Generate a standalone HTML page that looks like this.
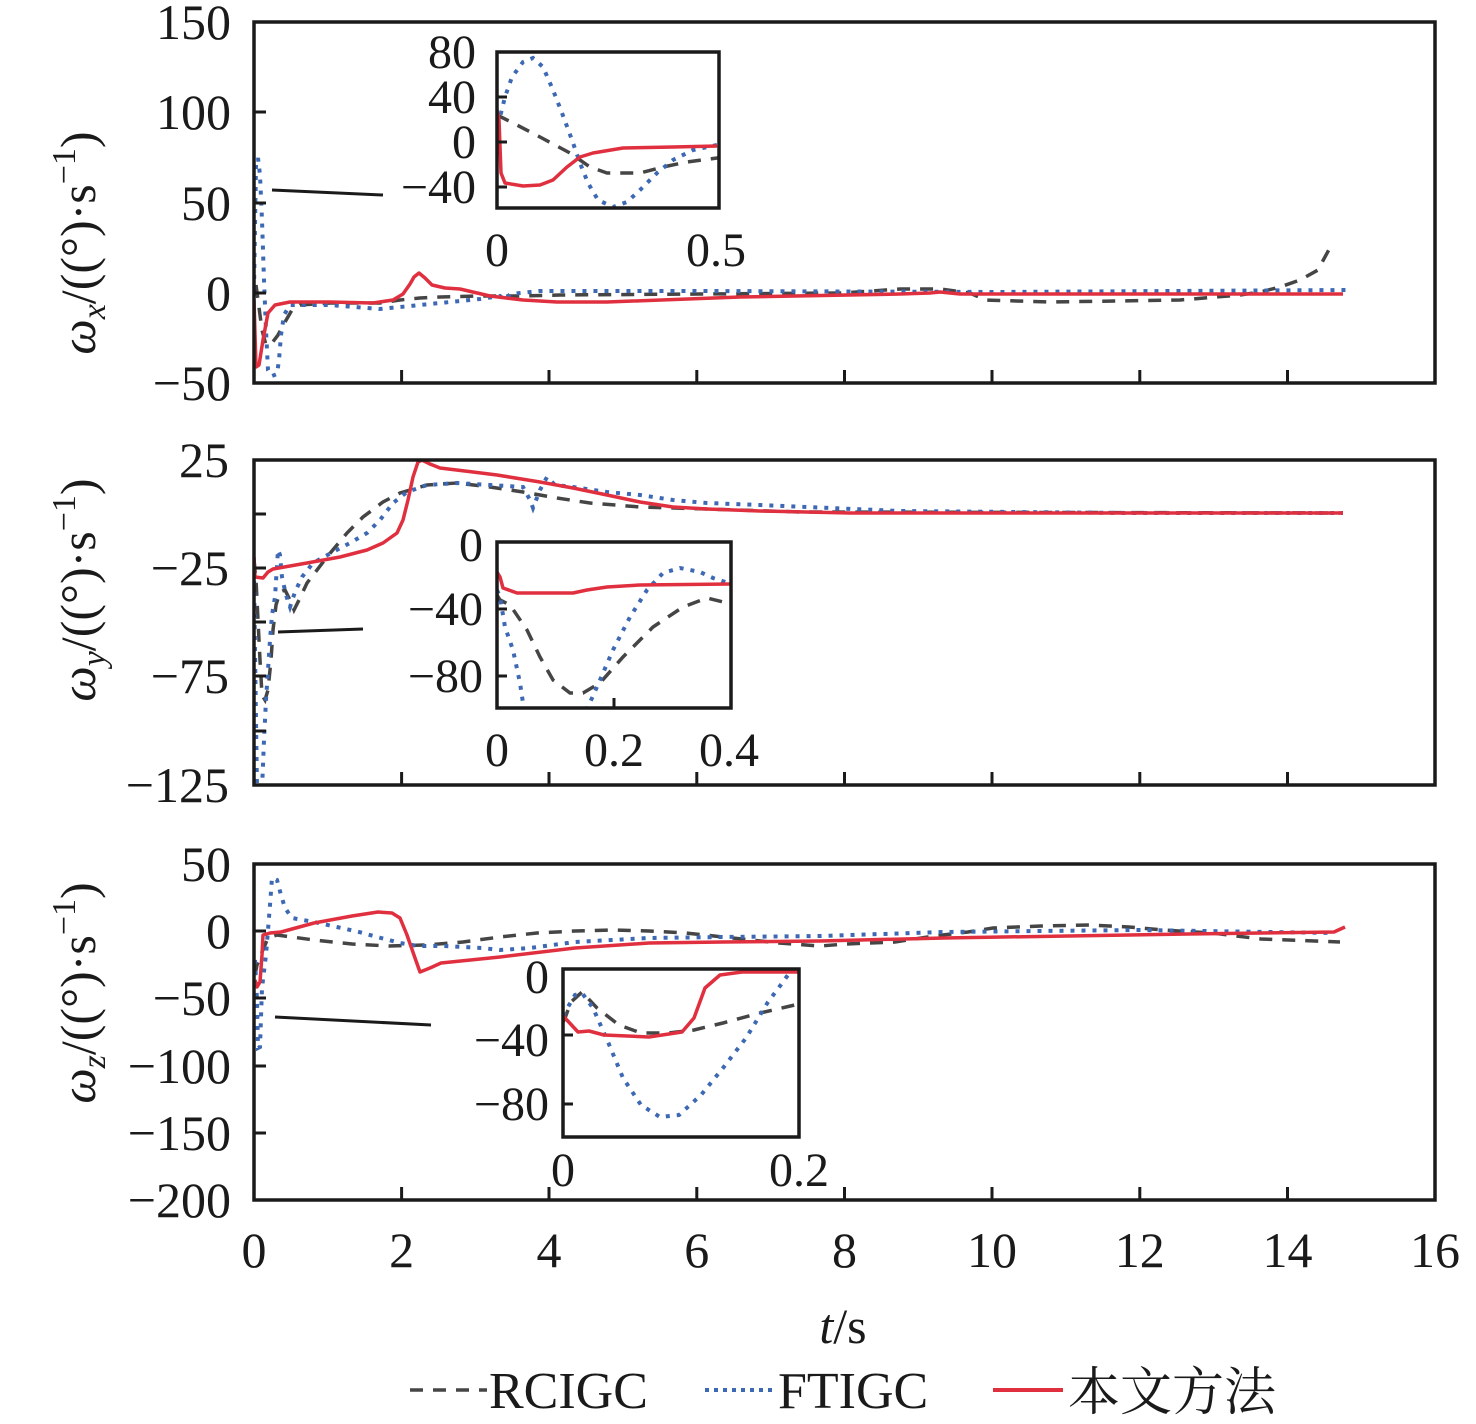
<!DOCTYPE html>
<html><head><meta charset="utf-8"><style>
html,body{margin:0;padding:0;background:#fff;}
svg{display:block;}
text{font-family:"Liberation Serif","Noto Serif CJK SC",serif;fill:#1a1a1a;}
</style></head><body>
<svg width="1476" height="1424" viewBox="0 0 1476 1424" xmlns="http://www.w3.org/2000/svg">
<defs>
<clipPath id="c1"><rect x="254" y="22" width="1181" height="361"/></clipPath>
<clipPath id="c2"><rect x="254" y="460" width="1181" height="325"/></clipPath>
<clipPath id="c3"><rect x="254" y="864" width="1181" height="336"/></clipPath>
<clipPath id="i1"><rect x="497" y="52" width="222" height="156"/></clipPath>
<clipPath id="i2"><rect x="497" y="542" width="234" height="166"/></clipPath>
<clipPath id="i3"><rect x="563" y="969" width="236" height="168"/></clipPath>
</defs>
<style>
.r{fill:none;stroke:#e0303f;stroke-width:3.5;stroke-linejoin:round;}
.b{fill:none;stroke:#3d68b3;stroke-width:4;stroke-dasharray:4 7;}
.g{fill:none;stroke:#454545;stroke-width:3.5;stroke-dasharray:13 10;}
.fr{fill:none;stroke:#1a1a1a;stroke-width:3.5;}
.tk{stroke:#1a1a1a;stroke-width:3;}
.t{font-size:50px;}
.ti{font-size:48px;}
</style>

<!-- ===== Panel 1 ===== -->
<g clip-path="url(#c1)">
<polyline class="g" points="256,285 258,300 262,330 266,345 272,343 278,335 285,322 292,310 300,305 330,303 380,303 400,300 420,298 440,297 480,296 520,296 560,295 700,294 843,293 900,289 940,289 970,293 985,300 1050,302 1180,300 1240,295 1260,292 1280,287 1300,280 1318,270 1333,242"/>
<polyline class="b" points="254,290 256,165 258,158 260,175 262,220 264,280 266,330 268,370 272,376 277,374 279,360 281,335 284,315 290,305 330,305 380,309 400,307 440,303 480,299 500,296 505,300 510,294 540,291 700,291 1000,292 1350,290"/>
<polyline class="r" points="254,300 256,367 259,365 263,340 268,313 275,305 290,302 330,302 373,303 393,300 403,294 410,284 414,277 419,273 425,278 432,285 445,288 460,289 490,296 523,300 557,302 607,302 740,297 900,294 930,293 940,292 960,294 1000,294 1343,294"/>
</g>
<rect class="fr" x="254" y="22" width="1181" height="361"/>
<g class="tk">
<line x1="254" y1="112" x2="266" y2="112"/><line x1="254" y1="203" x2="266" y2="203"/><line x1="254" y1="293" x2="266" y2="293"/>
<line x1="401.6" y1="383" x2="401.6" y2="370"/><line x1="549" y1="383" x2="549" y2="370"/><line x1="696.8" y1="383" x2="696.8" y2="370"/><line x1="844.5" y1="383" x2="844.5" y2="370"/><line x1="992" y1="383" x2="992" y2="370"/><line x1="1139.8" y1="383" x2="1139.8" y2="370"/><line x1="1287.5" y1="383" x2="1287.5" y2="370"/>
</g>
<g class="t" text-anchor="end">
<text x="231" y="39">150</text><text x="231" y="129">100</text><text x="231" y="220">50</text><text x="231" y="310">0</text><text x="231" y="400">−50</text>
</g>
<line x1="272" y1="190" x2="383" y2="195" stroke="#1a1a1a" stroke-width="3"/>
<!-- inset 1 -->
<rect x="497" y="52" width="222" height="156" fill="#fff"/>
<g clip-path="url(#i1)">
<polyline class="g" points="497,115 513,123 540,137 570,153 590,167 607,173 640,173 663,167 687,162 717,158 722,157"/>
<polyline class="b" points="497,125 500,117 505,97 512,77 523,62 533,58 543,67 553,90 562,113 572,140 580,163 588,183 598,200 613,207 627,202 640,190 657,173 673,160 693,150 717,145"/>
<polyline class="r" points="497,110 499,120 501,173 505,183 523,186 540,185 553,180 567,167 580,157 593,153 623,148 673,147 717,146"/>
</g>
<rect class="fr" x="497" y="52" width="222" height="156" stroke-width="3"/>
<g class="tk"><line x1="497" y1="97" x2="507" y2="97"/><line x1="497" y1="142" x2="507" y2="142"/><line x1="497" y1="187" x2="507" y2="187"/></g>
<g class="ti" text-anchor="end">
<text x="476" y="68">80</text><text x="476" y="113">40</text><text x="476" y="158">0</text><text x="476" y="203">−40</text>
</g>
<g class="ti" text-anchor="middle"><text x="497" y="266">0</text><text x="716" y="266">0.5</text></g>

<!-- ===== Panel 2 ===== -->
<g clip-path="url(#c2)">
<polyline class="g" points="254,560 256,580 258,620 260,660 262,695 265,700 268,690 271,660 273,630 276,605 280,592 285,590 290,600 294,610 300,598 307,583 327,557 347,533 363,517 383,502 400,493 427,485 457,483 490,487 523,492 557,498 590,503 640,507 707,509 800,512 1343,513"/>
<polyline class="b" points="254,570 255,650 256,720 257,790 260,800 262,790 264,740 266,700 268,670 270,640 272,615 275,597 278,550 280,555 282,577 286,595 290,607 295,592 302,577 313,563 333,552 350,543 367,533 380,520 393,503 407,492 427,485 457,483 490,485 523,487 530,500 533,508 540,490 547,477 555,485 573,487 607,492 640,495 673,500 707,503 760,505 900,511 1130,513 1343,513"/>
<polyline class="r" points="254,557 255,577 263,578 268,572 273,569 307,563 340,557 367,550 383,543 397,533 403,520 408,500 413,477 418,462 422,460 430,464 440,468 473,472 497,475 540,482 573,488 607,495 640,502 673,507 707,509 760,511 850,513 1343,513"/>
</g>
<rect class="fr" x="254" y="460" width="1181" height="325"/>
<g class="tk">
<line x1="254" y1="514" x2="266" y2="514"/><line x1="254" y1="568" x2="266" y2="568"/><line x1="254" y1="622" x2="266" y2="622"/><line x1="254" y1="676" x2="266" y2="676"/><line x1="254" y1="731" x2="266" y2="731"/>
<line x1="401.6" y1="785" x2="401.6" y2="772"/><line x1="549" y1="785" x2="549" y2="772"/><line x1="696.8" y1="785" x2="696.8" y2="772"/><line x1="844.5" y1="785" x2="844.5" y2="772"/><line x1="992" y1="785" x2="992" y2="772"/><line x1="1139.8" y1="785" x2="1139.8" y2="772"/><line x1="1287.5" y1="785" x2="1287.5" y2="772"/>
</g>
<g class="t" text-anchor="end">
<text x="229" y="477">25</text><text x="229" y="585">−25</text><text x="229" y="693">−75</text><text x="229" y="802">−125</text>
</g>
<line x1="278" y1="632" x2="363" y2="629" stroke="#1a1a1a" stroke-width="3"/>
<!-- inset 2 -->
<rect x="497" y="542" width="234" height="166" fill="#fff"/>
<g clip-path="url(#i2)">
<polyline class="g" points="497,595 500,600 510,605 527,630 540,657 553,680 570,693 583,693 600,683 623,657 653,627 683,607 707,598 731,604"/>
<polyline class="b" points="497,590 500,597 505,627 513,650 520,683 523,703 527,720 580,720 588,707 600,680 613,650 630,617 647,590 663,573 680,568 700,572 713,578 731,584"/>
<polyline class="r" points="497,572 500,577 503,588 517,593 573,593 587,590 607,587 640,585 731,584"/>
</g>
<rect class="fr" x="497" y="542" width="234" height="166" stroke-width="3"/>
<g class="tk"><line x1="497" y1="609" x2="507" y2="609"/><line x1="497" y1="676" x2="507" y2="676"/><line x1="614" y1="708" x2="614" y2="698"/></g>
<g class="ti" text-anchor="end">
<text x="483" y="561">0</text><text x="483" y="625">−40</text><text x="483" y="692">−80</text>
</g>
<g class="ti" text-anchor="middle"><text x="497" y="766">0</text><text x="614" y="766">0.2</text><text x="729" y="766">0.4</text></g>

<!-- ===== Panel 3 ===== -->
<g clip-path="url(#c3)">
<polyline class="g" points="255,975 257,965 262,952 268,938 277,935 314,940 352,944 389,946 426,945 463,942 500,937 537,933 575,931 612,930 649,931 686,933 723,937 779,943 820,946 846,944 895,942 934,936 968,932 993,928 1041,926 1090,925 1129,927 1163,930 1212,933 1261,939 1340,942"/>
<polyline class="b" points="255,960 257,1000 258,1048 260,1047 262,988 266,955 270,905 272,878 277,880 281,895 285,908 292,918 314,922 337,927 359,932 381,938 400,943 418,946 444,946 463,947 482,948 500,950 530,948 575,942 649,938 723,937 820,936 944,932 1139,930 1334,933"/>
<polyline class="r" points="255,980 257,987 260,982 262,955 263,935 270,933 281,932 314,923 352,916 378,912 392,913 400,918 407,935 415,958 420,972 430,968 441,963 500,957 575,948 649,943 723,942 820,941 944,938 1188,934 1334,932 1345,927"/>
</g>
<rect class="fr" x="254" y="864" width="1181" height="336"/>
<g class="tk">
<line x1="254" y1="931" x2="266" y2="931"/><line x1="254" y1="998" x2="266" y2="998"/><line x1="254" y1="1066" x2="266" y2="1066"/><line x1="254" y1="1133" x2="266" y2="1133"/>
<line x1="401.6" y1="1200" x2="401.6" y2="1187"/><line x1="549" y1="1200" x2="549" y2="1187"/><line x1="696.8" y1="1200" x2="696.8" y2="1187"/><line x1="844.5" y1="1200" x2="844.5" y2="1187"/><line x1="992" y1="1200" x2="992" y2="1187"/><line x1="1139.8" y1="1200" x2="1139.8" y2="1187"/><line x1="1287.5" y1="1200" x2="1287.5" y2="1187"/>
</g>
<g class="t" text-anchor="end">
<text x="231" y="881">50</text><text x="231" y="948">0</text><text x="231" y="1015">−50</text><text x="231" y="1083">−100</text><text x="231" y="1150">−150</text><text x="231" y="1217">−200</text>
</g>
<line x1="275" y1="1017" x2="431" y2="1025" stroke="#1a1a1a" stroke-width="3"/>
<!-- inset 3 -->
<rect x="563" y="969" width="236" height="168" fill="#fff"/>
<g clip-path="url(#i3)">
<polyline class="g" points="563,1022 565,1018 571,1002 582,992 597,1008 619,1025 641,1033 668,1033 694,1030 723,1023 760,1013 799,1004"/>
<polyline class="b" points="563,1016 565,1012 575,995 582,993 593,1008 608,1042 623,1078 641,1105 660,1117 679,1115 701,1095 723,1068 746,1038 768,1002 783,982 790,972 795,966"/>
<polyline class="r" points="563,1015 565,1018 578,1032 589,1031 604,1035 649,1037 682,1032 694,1018 705,988 720,975 742,972 799,972"/>
</g>
<rect class="fr" x="563" y="969" width="236" height="168" stroke-width="3"/>
<g class="tk"><line x1="563" y1="1035" x2="573" y2="1035"/><line x1="563" y1="1104" x2="573" y2="1104"/></g>
<g class="ti" text-anchor="end">
<text x="549" y="993">0</text><text x="549" y="1056">−40</text><text x="549" y="1120">−80</text>
</g>
<g class="ti" text-anchor="middle"><text x="563" y="1186">0</text><text x="799" y="1186">0.2</text></g>

<!-- x axis labels -->
<g class="t" text-anchor="middle">
<text x="254" y="1267">0</text><text x="401.6" y="1267">2</text><text x="549" y="1267">4</text><text x="696.8" y="1267">6</text><text x="844.5" y="1267">8</text><text x="992" y="1267">10</text><text x="1139.8" y="1267">12</text><text x="1287.5" y="1267">14</text><text x="1435" y="1267">16</text>
</g>
<text class="t" x="843" y="1343" text-anchor="middle"><tspan font-style="italic">t</tspan>/s</text>

<!-- y axis labels -->
<text class="t" transform="translate(95,243) rotate(-90)" text-anchor="middle"><tspan font-style="italic">ω</tspan><tspan font-style="italic" font-size="34" dy="10">x</tspan><tspan dy="-10">/((°)·s</tspan><tspan font-size="34" dy="-20">−1</tspan><tspan dy="20">)</tspan></text>
<text class="t" transform="translate(95,590) rotate(-90)" text-anchor="middle"><tspan font-style="italic">ω</tspan><tspan font-style="italic" font-size="34" dy="10">y</tspan><tspan dy="-10">/((°)·s</tspan><tspan font-size="34" dy="-20">−1</tspan><tspan dy="20">)</tspan></text>
<text class="t" transform="translate(95,993) rotate(-90)" text-anchor="middle"><tspan font-style="italic">ω</tspan><tspan font-style="italic" font-size="34" dy="10">z</tspan><tspan dy="-10">/((°)·s</tspan><tspan font-size="34" dy="-20">−1</tspan><tspan dy="20">)</tspan></text>

<!-- legend -->
<line x1="410" y1="1390" x2="487" y2="1390" stroke="#454545" stroke-width="3.5" stroke-dasharray="13 10"/>
<text x="489" y="1408" font-size="52">RCIGC</text>
<line x1="705" y1="1390" x2="776" y2="1390" stroke="#3d68b3" stroke-width="4" stroke-dasharray="4 5"/>
<text x="778" y="1408" font-size="52">FTIGC</text>
<line x1="993" y1="1390" x2="1063" y2="1390" stroke="#e0303f" stroke-width="4"/>
<text x="1068" y="1410" font-size="52">本文方法</text>
</svg>
</body></html>
